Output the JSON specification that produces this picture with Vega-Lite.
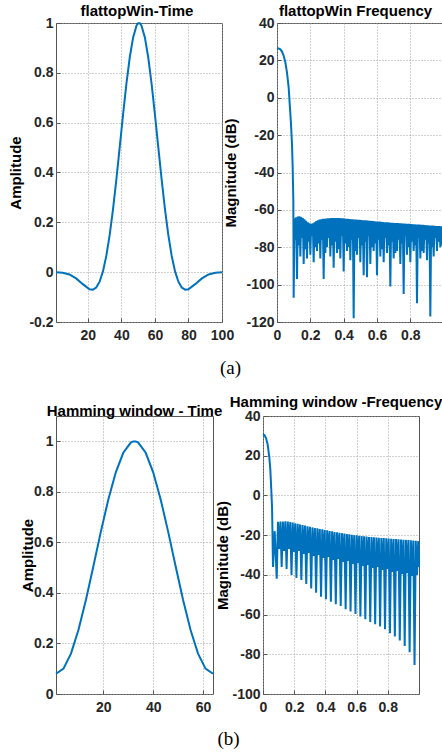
{
  "$schema": "https://vega.github.io/schema/vega-lite/v6.json",
  "padding": {"left": 8, "top": 3, "right": 0, "bottom": 0},
  "background": "white",
  "bounds": "flush",
  "spacing": 393,
  "datasets": {
    "flatTime": [
      {"x": 1, "y": 0}, {"x": 5, "y": -0.0023}, {"x": 9, "y": -0.0094}, {"x": 13, "y": -0.025}, {"x": 17, "y": -0.0482},
      {"x": 21, "y": -0.0683}, {"x": 23, "y": -0.0702}, {"x": 25, "y": -0.0615}, {"x": 27, "y": -0.0383}, {"x": 29, "y": 0.0031},
      {"x": 31, "y": 0.0652}, {"x": 33, "y": 0.1488}, {"x": 35, "y": 0.2523}, {"x": 37, "y": 0.3719}, {"x": 39, "y": 0.5015},
      {"x": 41, "y": 0.6328}, {"x": 43, "y": 0.7564}, {"x": 45, "y": 0.8625}, {"x": 47, "y": 0.9424}, {"x": 49, "y": 0.9892},
      {"x": 50, "y": 0.9988}, {"x": 51, "y": 0.9988}, {"x": 52, "y": 0.9892}, {"x": 54, "y": 0.9424}, {"x": 56, "y": 0.8625},
      {"x": 58, "y": 0.7564}, {"x": 60, "y": 0.6328}, {"x": 62, "y": 0.5015}, {"x": 64, "y": 0.3719}, {"x": 66, "y": 0.2523},
      {"x": 68, "y": 0.1488}, {"x": 70, "y": 0.0652}, {"x": 72, "y": 0.0031}, {"x": 74, "y": -0.0383}, {"x": 76, "y": -0.0615},
      {"x": 78, "y": -0.0702}, {"x": 80, "y": -0.0683}, {"x": 84, "y": -0.0482}, {"x": 88, "y": -0.025}, {"x": 92, "y": -0.0094},
      {"x": 96, "y": -0.0023}, {"x": 100, "y": 0}
    ],
    "flatFreq": [
      {"x": 0, "y": 26.5}, {"x": 0.01, "y": 26.4}, {"x": 0.02, "y": 25.9}, {"x": 0.03, "y": 24.7}, {"x": 0.04, "y": 22.5},
      {"x": 0.05, "y": 19}, {"x": 0.06, "y": 13.5}, {"x": 0.07, "y": 5.5}, {"x": 0.076, "y": -3}, {"x": 0.084, "y": -14},
      {"x": 0.09, "y": -25}, {"x": 0.094, "y": -37}, {"x": 0.098, "y": -55},
      {"x": 0.1, "y": -107}, {"x": 0.105, "y": -64.5}, {"x": 0.11, "y": -76}, {"x": 0.115, "y": -64},
      {"x": 0.12, "y": -97}, {"x": 0.125, "y": -63.6}, {"x": 0.13, "y": -79}, {"x": 0.135, "y": -63.4},
      {"x": 0.14, "y": -85}, {"x": 0.145, "y": -63.8}, {"x": 0.15, "y": -75}, {"x": 0.155, "y": -64.3},
      {"x": 0.16, "y": -89}, {"x": 0.165, "y": -65}, {"x": 0.17, "y": -81}, {"x": 0.175, "y": -65.8},
      {"x": 0.18, "y": -86}, {"x": 0.185, "y": -66.6}, {"x": 0.19, "y": -77}, {"x": 0.195, "y": -67.2},
      {"x": 0.2, "y": -84}, {"x": 0.205, "y": -67.5}, {"x": 0.21, "y": -74}, {"x": 0.215, "y": -67.2},
      {"x": 0.22, "y": -88}, {"x": 0.225, "y": -66.6}, {"x": 0.23, "y": -80}, {"x": 0.235, "y": -66},
      {"x": 0.24, "y": -82}, {"x": 0.245, "y": -65.5}, {"x": 0.25, "y": -78}, {"x": 0.255, "y": -65.2},
      {"x": 0.26, "y": -86}, {"x": 0.265, "y": -65}, {"x": 0.27, "y": -76}, {"x": 0.275, "y": -64.8},
      {"x": 0.28, "y": -97}, {"x": 0.285, "y": -64.7}, {"x": 0.29, "y": -83}, {"x": 0.295, "y": -64.6},
      {"x": 0.3, "y": -80}, {"x": 0.305, "y": -64.5}, {"x": 0.31, "y": -75}, {"x": 0.315, "y": -64.5},
      {"x": 0.32, "y": -85}, {"x": 0.325, "y": -64.4}, {"x": 0.33, "y": -79}, {"x": 0.335, "y": -64.4},
      {"x": 0.34, "y": -91}, {"x": 0.345, "y": -64.3}, {"x": 0.35, "y": -77}, {"x": 0.355, "y": -64.3},
      {"x": 0.36, "y": -83}, {"x": 0.365, "y": -64.4}, {"x": 0.37, "y": -81}, {"x": 0.375, "y": -64.4},
      {"x": 0.38, "y": -86}, {"x": 0.385, "y": -64.5}, {"x": 0.39, "y": -74}, {"x": 0.395, "y": -64.5},
      {"x": 0.4, "y": -93}, {"x": 0.405, "y": -64.6}, {"x": 0.41, "y": -78}, {"x": 0.415, "y": -64.7},
      {"x": 0.42, "y": -82}, {"x": 0.425, "y": -64.8}, {"x": 0.43, "y": -80}, {"x": 0.435, "y": -64.9},
      {"x": 0.44, "y": -87}, {"x": 0.445, "y": -65}, {"x": 0.45, "y": -76}, {"x": 0.455, "y": -65},
      {"x": 0.46, "y": -118}, {"x": 0.465, "y": -65.1}, {"x": 0.47, "y": -82}, {"x": 0.475, "y": -65.2},
      {"x": 0.48, "y": -84}, {"x": 0.485, "y": -65.3}, {"x": 0.49, "y": -75}, {"x": 0.495, "y": -65.3},
      {"x": 0.5, "y": -88}, {"x": 0.505, "y": -65.4}, {"x": 0.51, "y": -79}, {"x": 0.515, "y": -65.5},
      {"x": 0.52, "y": -95}, {"x": 0.525, "y": -65.6}, {"x": 0.53, "y": -77}, {"x": 0.535, "y": -65.6},
      {"x": 0.54, "y": -96}, {"x": 0.545, "y": -65.7}, {"x": 0.55, "y": -74}, {"x": 0.555, "y": -65.8},
      {"x": 0.56, "y": -89}, {"x": 0.565, "y": -65.9}, {"x": 0.57, "y": -80}, {"x": 0.575, "y": -66},
      {"x": 0.58, "y": -82}, {"x": 0.585, "y": -66.1}, {"x": 0.59, "y": -78}, {"x": 0.595, "y": -66.2},
      {"x": 0.6, "y": -95}, {"x": 0.605, "y": -66.2}, {"x": 0.61, "y": -76}, {"x": 0.615, "y": -66.3},
      {"x": 0.62, "y": -85}, {"x": 0.625, "y": -66.4}, {"x": 0.63, "y": -81}, {"x": 0.635, "y": -66.5},
      {"x": 0.64, "y": -88}, {"x": 0.645, "y": -66.6}, {"x": 0.65, "y": -75}, {"x": 0.655, "y": -66.6},
      {"x": 0.66, "y": -83}, {"x": 0.665, "y": -66.7}, {"x": 0.67, "y": -79}, {"x": 0.675, "y": -66.8},
      {"x": 0.68, "y": -101}, {"x": 0.685, "y": -66.9}, {"x": 0.69, "y": -77}, {"x": 0.695, "y": -66.9},
      {"x": 0.7, "y": -86}, {"x": 0.705, "y": -67}, {"x": 0.71, "y": -83}, {"x": 0.715, "y": -67.1},
      {"x": 0.72, "y": -82}, {"x": 0.725, "y": -67.1}, {"x": 0.73, "y": -76}, {"x": 0.735, "y": -67.2},
      {"x": 0.74, "y": -89}, {"x": 0.745, "y": -67.2}, {"x": 0.75, "y": -78}, {"x": 0.755, "y": -67.3},
      {"x": 0.76, "y": -105}, {"x": 0.765, "y": -67.3}, {"x": 0.77, "y": -74}, {"x": 0.775, "y": -67.4},
      {"x": 0.78, "y": -84}, {"x": 0.785, "y": -67.5}, {"x": 0.79, "y": -80}, {"x": 0.795, "y": -67.5},
      {"x": 0.8, "y": -88}, {"x": 0.805, "y": -67.6}, {"x": 0.81, "y": -77}, {"x": 0.815, "y": -67.7},
      {"x": 0.82, "y": -82}, {"x": 0.825, "y": -67.7}, {"x": 0.83, "y": -79}, {"x": 0.835, "y": -67.8},
      {"x": 0.84, "y": -110}, {"x": 0.845, "y": -67.8}, {"x": 0.85, "y": -75}, {"x": 0.855, "y": -67.9},
      {"x": 0.86, "y": -86}, {"x": 0.865, "y": -68}, {"x": 0.87, "y": -82}, {"x": 0.875, "y": -68},
      {"x": 0.88, "y": -83}, {"x": 0.885, "y": -68.1}, {"x": 0.89, "y": -76}, {"x": 0.895, "y": -68.2},
      {"x": 0.9, "y": -87}, {"x": 0.905, "y": -68.2}, {"x": 0.91, "y": -78}, {"x": 0.915, "y": -68.3},
      {"x": 0.92, "y": -117}, {"x": 0.925, "y": -68.4}, {"x": 0.93, "y": -80}, {"x": 0.935, "y": -68.4},
      {"x": 0.94, "y": -85}, {"x": 0.945, "y": -68.5}, {"x": 0.95, "y": -75}, {"x": 0.955, "y": -68.6},
      {"x": 0.96, "y": -82}, {"x": 0.965, "y": -68.6}, {"x": 0.97, "y": -77}, {"x": 0.975, "y": -68.7},
      {"x": 0.98, "y": -80}, {"x": 0.985, "y": -68.8}, {"x": 0.99, "y": -79}
    ],
    "hamTime": [
      {"x": 1, "y": 0.08}, {"x": 4, "y": 0.1004}, {"x": 7, "y": 0.1599}, {"x": 10, "y": 0.2532}, {"x": 13, "y": 0.3719},
      {"x": 16, "y": 0.5056}, {"x": 19, "y": 0.6424}, {"x": 22, "y": 0.77}, {"x": 25, "y": 0.8772}, {"x": 28, "y": 0.9545},
      {"x": 31, "y": 0.9949}, {"x": 32, "y": 0.9994}, {"x": 33, "y": 0.9994}, {"x": 34, "y": 0.9949}, {"x": 37, "y": 0.9545},
      {"x": 40, "y": 0.8772}, {"x": 43, "y": 0.77}, {"x": 46, "y": 0.6424}, {"x": 49, "y": 0.5056}, {"x": 52, "y": 0.3719},
      {"x": 55, "y": 0.2532}, {"x": 58, "y": 0.1599}, {"x": 61, "y": 0.1004}, {"x": 64, "y": 0.08}
    ],
    "hamFreq": [
      {"x": 0, "y": 30.8}, {"x": 0.01, "y": 30.3}, {"x": 0.02, "y": 28.8}, {"x": 0.03, "y": 25.5}, {"x": 0.04, "y": 19.5},
      {"x": 0.047, "y": 13}, {"x": 0.053, "y": 3}, {"x": 0.058, "y": -6}, {"x": 0.061, "y": -20}, {"x": 0.064, "y": -36},
      {"x": 0.075, "y": -18},
      {"x": 0.088, "y": -42}, {"x": 0.0959, "y": -13.3}, {"x": 0.1038, "y": -27}, {"x": 0.1117, "y": -13.2},
      {"x": 0.1196, "y": -36}, {"x": 0.1275, "y": -13.1}, {"x": 0.1354, "y": -28}, {"x": 0.1433, "y": -13},
      {"x": 0.1511, "y": -37}, {"x": 0.159, "y": -13.2}, {"x": 0.1669, "y": -27}, {"x": 0.1748, "y": -13.4},
      {"x": 0.1827, "y": -40}, {"x": 0.1906, "y": -13.7}, {"x": 0.1985, "y": -28.5}, {"x": 0.2064, "y": -14},
      {"x": 0.2142, "y": -41.6}, {"x": 0.2221, "y": -14.3}, {"x": 0.23, "y": -28}, {"x": 0.2379, "y": -14.6},
      {"x": 0.2458, "y": -42.6}, {"x": 0.2537, "y": -14.9}, {"x": 0.2616, "y": -29.5}, {"x": 0.2695, "y": -15.2},
      {"x": 0.2773, "y": -44.6}, {"x": 0.2852, "y": -15.5}, {"x": 0.2931, "y": -29}, {"x": 0.301, "y": -15.8},
      {"x": 0.3089, "y": -46.8}, {"x": 0.3168, "y": -16.1}, {"x": 0.3247, "y": -30.5}, {"x": 0.3326, "y": -16.4},
      {"x": 0.3404, "y": -49}, {"x": 0.3483, "y": -16.6}, {"x": 0.3562, "y": -30}, {"x": 0.3641, "y": -16.9},
      {"x": 0.372, "y": -51}, {"x": 0.3799, "y": -17.1}, {"x": 0.3878, "y": -31.5}, {"x": 0.3957, "y": -17.4},
      {"x": 0.4035, "y": -52.3}, {"x": 0.4114, "y": -17.6}, {"x": 0.4193, "y": -31}, {"x": 0.4272, "y": -17.9},
      {"x": 0.4351, "y": -53.5}, {"x": 0.443, "y": -18.1}, {"x": 0.4509, "y": -32.5}, {"x": 0.4588, "y": -18.4},
      {"x": 0.4666, "y": -54.8}, {"x": 0.4745, "y": -18.6}, {"x": 0.4824, "y": -32}, {"x": 0.4903, "y": -18.8},
      {"x": 0.4982, "y": -55.7}, {"x": 0.5061, "y": -19}, {"x": 0.514, "y": -33.5}, {"x": 0.5219, "y": -19.2},
      {"x": 0.5297, "y": -57.3}, {"x": 0.5376, "y": -19.4}, {"x": 0.5455, "y": -33}, {"x": 0.5534, "y": -19.6},
      {"x": 0.5613, "y": -58.5}, {"x": 0.5692, "y": -19.8}, {"x": 0.5771, "y": -34.5}, {"x": 0.585, "y": -20},
      {"x": 0.5928, "y": -59.7}, {"x": 0.6007, "y": -20.1}, {"x": 0.6086, "y": -34}, {"x": 0.6165, "y": -20.3},
      {"x": 0.6244, "y": -61}, {"x": 0.6323, "y": -20.4}, {"x": 0.6402, "y": -35.5}, {"x": 0.6481, "y": -20.6},
      {"x": 0.6559, "y": -62.4}, {"x": 0.6638, "y": -20.7}, {"x": 0.6717, "y": -35}, {"x": 0.6796, "y": -20.9},
      {"x": 0.6875, "y": -63.7}, {"x": 0.6954, "y": -21}, {"x": 0.7033, "y": -36.5}, {"x": 0.7112, "y": -21.1},
      {"x": 0.719, "y": -64.9}, {"x": 0.7269, "y": -21.2}, {"x": 0.7348, "y": -36}, {"x": 0.7427, "y": -21.3},
      {"x": 0.7506, "y": -66}, {"x": 0.7585, "y": -21.4}, {"x": 0.7664, "y": -37.5}, {"x": 0.7743, "y": -21.5},
      {"x": 0.7821, "y": -67.4}, {"x": 0.79, "y": -21.6}, {"x": 0.7979, "y": -37}, {"x": 0.8058, "y": -21.7},
      {"x": 0.8137, "y": -69.4}, {"x": 0.8216, "y": -21.8}, {"x": 0.8295, "y": -38.5}, {"x": 0.8374, "y": -21.9},
      {"x": 0.8452, "y": -71}, {"x": 0.8531, "y": -22}, {"x": 0.861, "y": -38}, {"x": 0.8689, "y": -22.1},
      {"x": 0.8768, "y": -73}, {"x": 0.8847, "y": -22.2}, {"x": 0.8926, "y": -39.5}, {"x": 0.9005, "y": -22.3},
      {"x": 0.9083, "y": -75.8}, {"x": 0.9162, "y": -22.4}, {"x": 0.9241, "y": -39}, {"x": 0.932, "y": -22.5},
      {"x": 0.9399, "y": -79}, {"x": 0.9478, "y": -22.6}, {"x": 0.9557, "y": -40.5}, {"x": 0.9636, "y": -22.7},
      {"x": 0.9714, "y": -85.4}, {"x": 0.9793, "y": -22.8}, {"x": 0.9872, "y": -40}, {"x": 0.9951, "y": -23},
      {"x": 1.0, "y": -36}
    ]
  },
  "config": {
    "font": "Liberation Sans",
    "view": {"stroke": "#555555", "strokeWidth": 1},
    "axis": {
      "labelFont": "Liberation Sans", "labelFontSize": 14, "labelFontWeight": "bold", "labelColor": "#262626",
      "titleFont": "Liberation Sans", "titleFontSize": 15, "titleFontWeight": "bold", "titleColor": "#000000",
      "grid": true, "gridColor": "#a0a0a0", "gridDash": [1, 2], "gridWidth": 1,
      "domain": false, "ticks": true, "tickSize": -4, "tickColor": "#555555",
      "labelExpr": "replace(format(datum.value, '~g'), '\u2212', '-')"
    },
    "axisX": {"title": null, "labelFlush": false, "labelPadding": 10},
    "axisY": {"labelPadding": 7},
    "title": {"font": "Liberation Sans", "fontSize": 15, "fontWeight": "bold", "color": "#000000", "offset": -3},
    "line": {"color": "#0072BD", "strokeWidth": 2, "clip": true}
  },
  "vconcat": [
    {
      "bounds": "flush",
      "spacing": 55,
      "hconcat": [
        {
          "width": 166, "height": 299,
          "title": {"text": "flattopWin-Time", "dx": -2},
          "data": {"name": "flatTime"},
          "mark": {"type": "line"},
          "encoding": {
            "x": {"field": "x", "type": "quantitative", "scale": {"domain": [1, 100], "nice": false, "zero": false},
                  "axis": {"values": [20, 40, 60, 80, 100], "title": "(a)", "titleFont": "Liberation Serif", "titleFontSize": 19, "titleFontWeight": "normal", "titleColor": "#000000", "titleX": 174, "titleY": 45, "titleAlign": "center", "titleBaseline": "middle"}},
            "y": {"field": "y", "type": "quantitative", "scale": {"domain": [-0.2, 1], "nice": false}, "axis": {"values": [-0.2, 0, 0.2, 0.4, 0.6, 0.8, 1], "title": "Amplitude", "titlePadding": 5}}
          }
        },
        {
          "width": 165, "height": 299,
          "title": {"text": "flattopWin Frequency", "dx": -4},
          "data": {"name": "flatFreq"},
          "mark": {"type": "line"},
          "encoding": {
            "x": {"field": "x", "type": "quantitative", "scale": {"domain": [0, 0.99], "nice": false, "zero": false}, "axis": {"values": [0, 0.2, 0.4, 0.6, 0.8]}},
            "y": {"field": "y", "type": "quantitative", "scale": {"domain": [-120, 40], "nice": false}, "axis": {"values": [-120, -100, -80, -60, -40, -20, 0, 20, 40], "title": "Magnitude (dB)", "titlePadding": 7}}
          }
        }
      ]
    },
    {
      "bounds": "flush",
      "spacing": 50,
      "hconcat": [
        {
          "width": 157, "height": 278,
          "title": {"text": "Hamming window - Time"},
          "data": {"name": "hamTime"},
          "mark": {"type": "line"},
          "encoding": {
            "x": {"field": "x", "type": "quantitative", "scale": {"domain": [1, 64], "nice": false, "zero": false},
                  "axis": {"values": [20, 40, 60], "title": "(b)", "titleFont": "Liberation Serif", "titleFontSize": 19, "titleFontWeight": "normal", "titleColor": "#000000", "titleX": 172, "titleY": 44, "titleAlign": "center", "titleBaseline": "middle"}},
            "y": {"field": "y", "type": "quantitative", "scale": {"domain": [0, 1.1], "nice": false}, "axis": {"values": [0, 0.2, 0.4, 0.6, 0.8, 1], "title": "Amplitude", "titlePadding": -2}}
          }
        },
        {
          "width": 156, "height": 278,
          "title": {"text": "Hamming window -Frequency", "dx": -5, "offset": -1},
          "data": {"name": "hamFreq"},
          "mark": {"type": "line"},
          "encoding": {
            "x": {"field": "x", "type": "quantitative", "scale": {"domain": [0, 1], "nice": false, "zero": false}, "axis": {"values": [0, 0.2, 0.4, 0.6, 0.8]}},
            "y": {"field": "y", "type": "quantitative", "scale": {"domain": [-100, 40], "nice": false}, "axis": {"values": [-100, -80, -60, -40, -20, 0, 20, 40], "title": "Magnitude (dB)", "titlePadding": 1}}
          }
        }
      ]
    }
  ]
}
